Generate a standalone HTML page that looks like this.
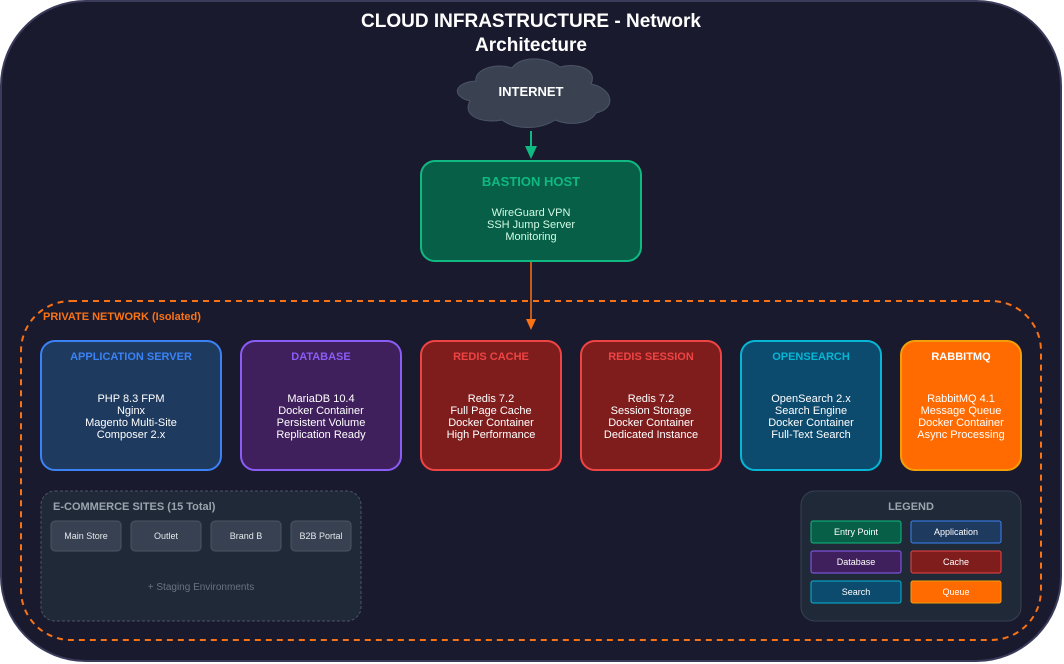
<!DOCTYPE html>
<html><head><meta charset="utf-8"><style>
html,body{margin:0;padding:0;background:#fff;}
svg{display:block;font-family:"Liberation Sans",sans-serif;}
</style></head><body>
<svg width="1064" height="664" viewBox="0 0 1064 664" xmlns="http://www.w3.org/2000/svg">
<rect x="1" y="1" width="1060" height="660" rx="85" fill="#1a1a2e" stroke="#3a3a5a" stroke-width="2"/>
<text x="531" y="27" text-anchor="middle" fill="#fff" font-size="19" font-weight="bold">CLOUD INFRASTRUCTURE - Network</text>
<text x="531" y="51" text-anchor="middle" fill="#fff" font-size="19" font-weight="bold">Architecture</text>
<!-- cloud -->
<path d="M470,101 C450,96 455,82 476,81 C474,70 495,62 512,68 C520,56 545,56 560,67 C578,62 598,70 591,84 C612,88 618,108 596,113 C590,124 570,126 555,120 C540,130 515,130 502,120 C480,124 462,115 470,101 Z" fill="#3a4252" stroke="#4b5565" stroke-width="1"/>
<text x="531" y="96" text-anchor="middle" fill="#fff" font-size="13" font-weight="bold">INTERNET</text>
<line x1="531" y1="131" x2="531" y2="152" stroke="#10b981" stroke-width="2"/>
<polygon points="525,146 537,146 531,159" fill="#10b981"/>
<!-- bastion -->
<rect x="421" y="161" width="220" height="100" rx="14" fill="#065f46" stroke="#10b981" stroke-width="2"/>
<text x="531" y="186" text-anchor="middle" fill="#10b981" font-size="13" font-weight="bold">BASTION HOST</text>
<g fill="#d1fae5" font-size="11" text-anchor="middle"><text x="531" y="216">WireGuard VPN</text><text x="531" y="228">SSH Jump Server</text><text x="531" y="240">Monitoring</text></g>
<line x1="531" y1="262" x2="531" y2="322" stroke="#f97316" stroke-width="1.5"/>
<polygon points="526,319 536,319 531,330" fill="#f97316"/>
<!-- private network -->
<rect x="21" y="301" width="1020" height="339" rx="50" fill="none" stroke="#f97316" stroke-width="2" stroke-dasharray="6,5"/>
<text x="43" y="320" fill="#f97316" font-size="11" font-weight="bold">PRIVATE NETWORK (Isolated)</text>
<!-- service boxes -->
<g font-size="11" text-anchor="middle">
<rect x="41" y="341" width="180" height="129" rx="14" fill="#1e3a5f" stroke="#3b82f6" stroke-width="2"/>
<text x="131" y="360" fill="#3b82f6" font-weight="bold">APPLICATION SERVER</text>
<g fill="#fff"><text x="131" y="402">PHP 8.3 FPM</text><text x="131" y="414">Nginx</text><text x="131" y="426">Magento Multi-Site</text><text x="131" y="438">Composer 2.x</text></g>

<rect x="241" y="341" width="160" height="129" rx="14" fill="#3f1f5c" stroke="#8b5cf6" stroke-width="2"/>
<text x="321" y="360" fill="#8b5cf6" font-weight="bold">DATABASE</text>
<g fill="#fff"><text x="321" y="402">MariaDB 10.4</text><text x="321" y="414">Docker Container</text><text x="321" y="426">Persistent Volume</text><text x="321" y="438">Replication Ready</text></g>

<rect x="421" y="341" width="140" height="129" rx="14" fill="#7f1d1d" stroke="#ef4444" stroke-width="2"/>
<text x="491" y="360" fill="#ef4444" font-weight="bold">REDIS CACHE</text>
<g fill="#fff"><text x="491" y="402">Redis 7.2</text><text x="491" y="414">Full Page Cache</text><text x="491" y="426">Docker Container</text><text x="491" y="438">High Performance</text></g>

<rect x="581" y="341" width="140" height="129" rx="14" fill="#7f1d1d" stroke="#ef4444" stroke-width="2"/>
<text x="651" y="360" fill="#ef4444" font-weight="bold">REDIS SESSION</text>
<g fill="#fff"><text x="651" y="402">Redis 7.2</text><text x="651" y="414">Session Storage</text><text x="651" y="426">Docker Container</text><text x="651" y="438">Dedicated Instance</text></g>

<rect x="741" y="341" width="140" height="129" rx="14" fill="#0c4a6e" stroke="#06b6d4" stroke-width="2"/>
<text x="811" y="360" fill="#06b6d4" font-weight="bold">OPENSEARCH</text>
<g fill="#fff"><text x="811" y="402">OpenSearch 2.x</text><text x="811" y="414">Search Engine</text><text x="811" y="426">Docker Container</text><text x="811" y="438">Full-Text Search</text></g>

<rect x="901" y="341" width="120" height="129" rx="14" fill="#ff6b00" stroke="#f59e0b" stroke-width="2"/>
<text x="961" y="360" fill="#fff" font-weight="bold">RABBITMQ</text>
<g fill="#fff"><text x="961" y="402">RabbitMQ 4.1</text><text x="961" y="414">Message Queue</text><text x="961" y="426">Docker Container</text><text x="961" y="438">Async Processing</text></g>
</g>
<!-- ecommerce -->
<rect x="41" y="491" width="320" height="130" rx="14" fill="#1f2937" stroke="#4b5563" stroke-width="1" stroke-dasharray="3,2"/>
<text x="53" y="510" fill="#9ca3af" font-size="11" font-weight="bold">E-COMMERCE SITES (15 Total)</text>
<g font-size="9" fill="#e5e7eb" text-anchor="middle">
<rect x="51" y="521" width="70" height="30" rx="4" fill="#374151" stroke="#4b5563"/><text x="86" y="539">Main Store</text>
<rect x="131" y="521" width="70" height="30" rx="4" fill="#374151" stroke="#4b5563"/><text x="166" y="539">Outlet</text>
<rect x="211" y="521" width="70" height="30" rx="4" fill="#374151" stroke="#4b5563"/><text x="246" y="539">Brand B</text>
<rect x="291" y="521" width="60" height="30" rx="4" fill="#374151" stroke="#4b5563"/><text x="321" y="539">B2B Portal</text>
</g>
<text x="201" y="590" text-anchor="middle" fill="#6b7280" font-size="10">+ Staging Environments</text>
<!-- legend -->
<rect x="801" y="491" width="220" height="130" rx="14" fill="#1f2937" stroke="#374151" stroke-width="1"/>
<text x="911" y="510" text-anchor="middle" fill="#9ca3af" font-size="11" font-weight="bold">LEGEND</text>
<g font-size="9" fill="#fff" text-anchor="middle">
<rect x="811" y="521" width="90" height="22" rx="2" fill="#065f46" stroke="#10b981"/><text x="856" y="535">Entry Point</text>
<rect x="911" y="521" width="90" height="22" rx="2" fill="#1e3a5f" stroke="#3b82f6"/><text x="956" y="535">Application</text>
<rect x="811" y="551" width="90" height="22" rx="2" fill="#3f1f5c" stroke="#8b5cf6"/><text x="856" y="565">Database</text>
<rect x="911" y="551" width="90" height="22" rx="2" fill="#7f1d1d" stroke="#ef4444"/><text x="956" y="565">Cache</text>
<rect x="811" y="581" width="90" height="22" rx="2" fill="#0c4a6e" stroke="#06b6d4"/><text x="856" y="595">Search</text>
<rect x="911" y="581" width="90" height="22" rx="2" fill="#ff6b00" stroke="#f59e0b"/><text x="956" y="595">Queue</text>
</g>
</svg>
</body></html>
